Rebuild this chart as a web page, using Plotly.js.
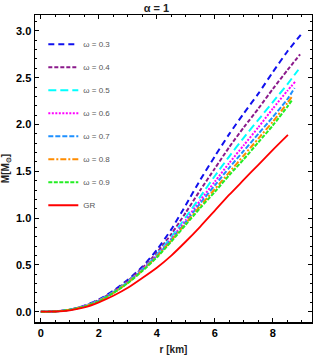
<!DOCTYPE html>
<html>
<head>
<meta charset="utf-8">
<script src="https://cdn.plot.ly/plotly-3.0.1.min.js"></script>
<style>html,body{margin:0;padding:0;background:#fff;}#chart{width:313px;height:359px;}</style>
</head>
<body>
<div id="chart"></div>
<script>
// radius values [km]
const rBase = [0, 0.5, 1, 1.5, 2, 2.5, 3, 3.5, 4, 4.5, 5, 5.5, 6, 6.5, 7, 7.5, 8, 8.5];
// mass values [M_sun]
const r_w03 = rBase.concat([9.02]);
const m_w03 = [0, 0.003, 0.022, 0.065, 0.13, 0.225, 0.34, 0.48, 0.66, 0.88, 1.14, 1.41, 1.66, 1.9, 2.12, 2.33, 2.56, 2.78, 2.98];
const r_w04 = rBase.concat([8.94]);
const m_w04 = [0, 0.003, 0.021, 0.062, 0.125, 0.215, 0.33, 0.465, 0.63, 0.83, 1.06, 1.3, 1.53, 1.76, 1.97, 2.17, 2.38, 2.58, 2.75];
const r_w05 = rBase.concat([8.88]);
const m_w05 = [0, 0.003, 0.021, 0.06, 0.12, 0.21, 0.32, 0.455, 0.61, 0.8, 1.01, 1.23, 1.45, 1.66, 1.86, 2.05, 2.24, 2.43, 2.585];
const r_w06 = rBase.concat([8.78]);
const m_w06 = [0, 0.003, 0.02, 0.058, 0.117, 0.205, 0.315, 0.45, 0.6, 0.78, 0.98, 1.19, 1.39, 1.59, 1.78, 1.97, 2.17, 2.36, 2.46];
const r_w07 = rBase.concat([8.75]);
const m_w07 = [0, 0.003, 0.02, 0.057, 0.115, 0.203, 0.312, 0.445, 0.595, 0.77, 0.96, 1.16, 1.35, 1.54, 1.72, 1.9, 2.08, 2.27, 2.39];
const r_w08 = rBase.concat([8.69]);
const m_w08 = [0, 0.003, 0.02, 0.056, 0.113, 0.2, 0.31, 0.44, 0.59, 0.76, 0.945, 1.13, 1.31, 1.49, 1.67, 1.85, 2.03, 2.23, 2.31];
const r_w09 = rBase.concat([8.66]);
const m_w09 = [0, 0.003, 0.02, 0.055, 0.11, 0.2, 0.305, 0.435, 0.58, 0.75, 0.93, 1.11, 1.28, 1.46, 1.63, 1.81, 1.99, 2.19, 2.26];
const r_gr = rBase.slice(0, 17).concat([8.52]);
const m_gr = [0, 0.002, 0.015, 0.045, 0.1, 0.17, 0.255, 0.36, 0.47, 0.6, 0.75, 0.91, 1.08, 1.25, 1.41, 1.57, 1.73, 1.89];

const names = ["ω = 0.3", "ω = 0.4", "ω = 0.5", "ω = 0.6", "ω = 0.7", "ω = 0.8", "ω = 0.9", "GR"];
const xs = [r_w03, r_w04, r_w05, r_w06, r_w07, r_w08, r_w09, r_gr];
const ys = [m_w03, m_w04, m_w05, m_w06, m_w07, m_w08, m_w09, m_gr];
const colors = ["#1010ee", "#8b1a8b", "#00ffff", "#ff00ff", "#1e90ff", "#ff8c00", "#22ee22", "#ff0000"];
const dashes = ["6px,4px", "4px,2px", "8px,4px", "2px,1.5px", "5px,2px", "6px,2px,2px,2px", "4px,1.5px", "solid"];

const traces = names.map((n, i) => ({
  x: xs[i], y: ys[i], name: n, type: "scatter", mode: "lines",
  legendgroup: "g" + i,
  line: {color: colors[i], width: i === 7 ? 1.8 : 2, dash: dashes[i], shape: "spline", smoothing: 0.6}
}));

const axisCommon = {
  showline: true, linecolor: "#000", linewidth: 1.5, mirror: "allticks",
  ticks: "inside", ticklen: 4, tickwidth: 1, tickcolor: "#000",
  showgrid: false, zeroline: false,
  tickfont: {family: "Liberation Sans, Arial, sans-serif", size: 11, color: "#000", weight: "bold"},
};

const layout = {
  width: 313, height: 359,
  margin: {l: 35, r: 1, t: 15, b: 37},
  paper_bgcolor: "#fff", plot_bgcolor: "#fff",
  title: {text: "<b>α = 1</b>", x: 0.5, xanchor: "center", y: 0.988, yanchor: "top",
    font: {family: "Liberation Sans, Arial, sans-serif", size: 11, color: "#222"}},
  xaxis: Object.assign({}, axisCommon, {
    range: [-0.2, 9.35], dtick: 2, tick0: 0,
    minor: {dtick: 0.5, ticklen: 2, tickcolor: "#000", ticks: "inside"},
    title: {text: "<b>r [km]</b>", standoff: 8, font: {family: "Liberation Sans, Arial, sans-serif", size: 10, color: "#222"}}
  }),
  yaxis: Object.assign({}, axisCommon, {
    range: [-0.11, 3.17], dtick: 0.5, tick0: 0, tickformat: ".1f",
    minor: {dtick: 0.1, ticklen: 2, tickcolor: "#000", ticks: "inside"},
    title: {text: "<b>M[M<sub>⊙</sub>]</b>", standoff: 4, font: {family: "Liberation Sans, Arial, sans-serif", size: 10, color: "#222"}}
  }),
  showlegend: true,
  legend: {x: 0.03, y: 0.952, xanchor: "left", yanchor: "top", bgcolor: "rgba(0,0,0,0)",
    font: {family: "Liberation Sans, Arial, sans-serif", size: 8, color: "#555"},
    tracegroupgap: 4, itemwidth: 30}
};

Plotly.newPlot("chart", traces, layout, {displayModeBar: false, staticPlot: true});
</script>
</body>
</html>
